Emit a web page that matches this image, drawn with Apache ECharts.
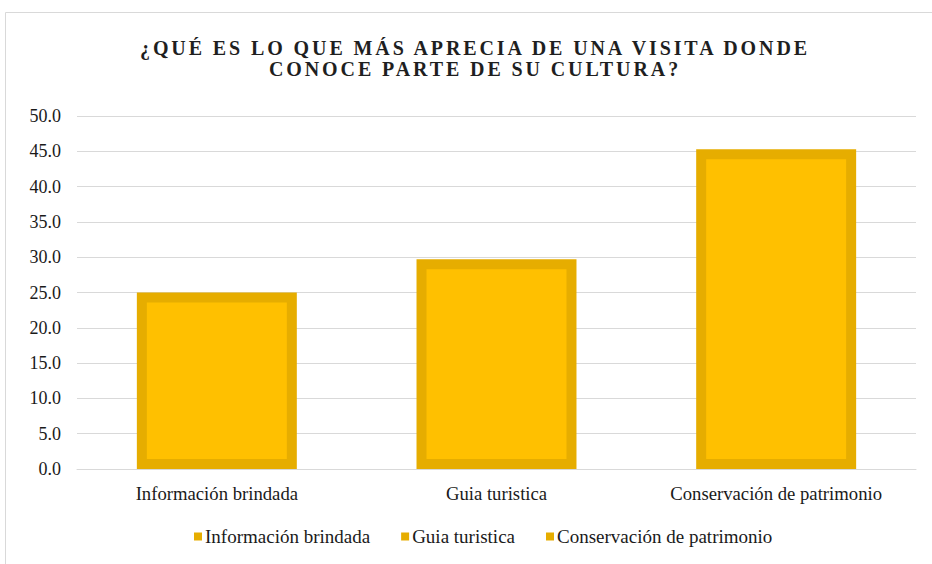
<!DOCTYPE html>
<html>
<head>
<meta charset="utf-8">
<script src="https://cdn.jsdelivr.net/npm/echarts@6/dist/echarts.min.js"></script>
<style>
  html, body { margin: 0; padding: 0; background: #ffffff; }
  #chart { width: 932px; height: 564px; }
  #chart svg text[style*="bold"], #chart svg text[font-weight="bold"] { letter-spacing: 2.9px; }
</style>
</head>
<body>
<div id="chart"></div>
<script>
var titleText = '¿QUÉ ES LO QUE MÁS APRECIA DE UNA VISITA DONDE\nCONOCE PARTE DE SU CULTURA?';
var categories = ['Información brindada', 'Guia turistica', 'Conservación de patrimonio'];
var values = [25.0, 29.7, 45.3];
var yTicks = { min: 0, max: 50, interval: 5 };

var FONT = "'Liberation Serif', 'Times New Roman', serif";
var FILL = '#FFC000';
var EDGE = '#E6AD00';
var BORDER = 10;
var BAR_RATIO = 0.572;

function renderBar(params, api) {
  var idx = api.value(0);
  var val = api.value(1);
  var top = api.coord([idx, val]);
  var base = api.coord([idx, 0]);
  var w = api.size([1, 0])[0] * BAR_RATIO;
  return {
    type: 'rect',
    shape: {
      x: top[0] - w / 2 + BORDER / 2,
      y: top[1] + BORDER / 2,
      width: w - BORDER,
      height: base[1] - top[1] - BORDER
    },
    style: { fill: FILL, stroke: EDGE, lineWidth: BORDER }
  };
}

var series = categories.map(function (name, i) {
  return {
    name: name,
    type: 'custom',
    renderItem: renderBar,
    itemStyle: { color: FILL },
    encode: { x: 0, y: 1 },
    data: [[i, values[i]]]
  };
});

var chart = echarts.init(document.getElementById('chart'), null, { renderer: 'svg' });
chart.setOption({
  animation: false,
  backgroundColor: '#ffffff',
  graphic: [{
    type: 'rect',
    z: -10,
    shape: { x: 5.5, y: 12.5, width: 1000, height: 1000 },
    style: { fill: 'none', stroke: '#d9d9d9', lineWidth: 1 }
  }],
  title: {
    text: titleText,
    left: 475,
    textAlign: 'center',
    top: 37,
    padding: 0,
    textStyle: {
      fontFamily: FONT,
      fontSize: 20,
      fontWeight: 'bold',
      color: '#1f1f1f',
      lineHeight: 21
    }
  },
  legend: {
    bottom: 13,
    left: 189,
    padding: 5,
    icon: 'rect',
    itemWidth: 8,
    itemHeight: 8,
    itemGap: 31,
    itemStyle: { color: EDGE },
    textStyle: { fontFamily: FONT, fontSize: 19, color: '#1a1a1a', padding: [0, 0, 0, -2] },
    data: categories
  },
  grid: { left: 77, right: 16, top: 116, bottom: 95 },
  xAxis: {
    type: 'category',
    data: categories,
    axisLine: { lineStyle: { color: '#d9d9d9', width: 1 } },
    axisTick: { show: false },
    axisLabel: { fontFamily: FONT, fontSize: 18.7, color: '#1a1a1a', margin: 15 }
  },
  yAxis: {
    type: 'value',
    min: yTicks.min,
    max: yTicks.max,
    interval: yTicks.interval,
    axisLine: { show: false },
    axisTick: { show: false },
    splitLine: { lineStyle: { color: '#d9d9d9', width: 1 } },
    axisLabel: {
      fontFamily: FONT, fontSize: 18, color: '#1a1a1a', margin: 16,
      formatter: function (v) { return v.toFixed(1); }
    }
  },
  series: series
});
</script>
</body>
</html>
